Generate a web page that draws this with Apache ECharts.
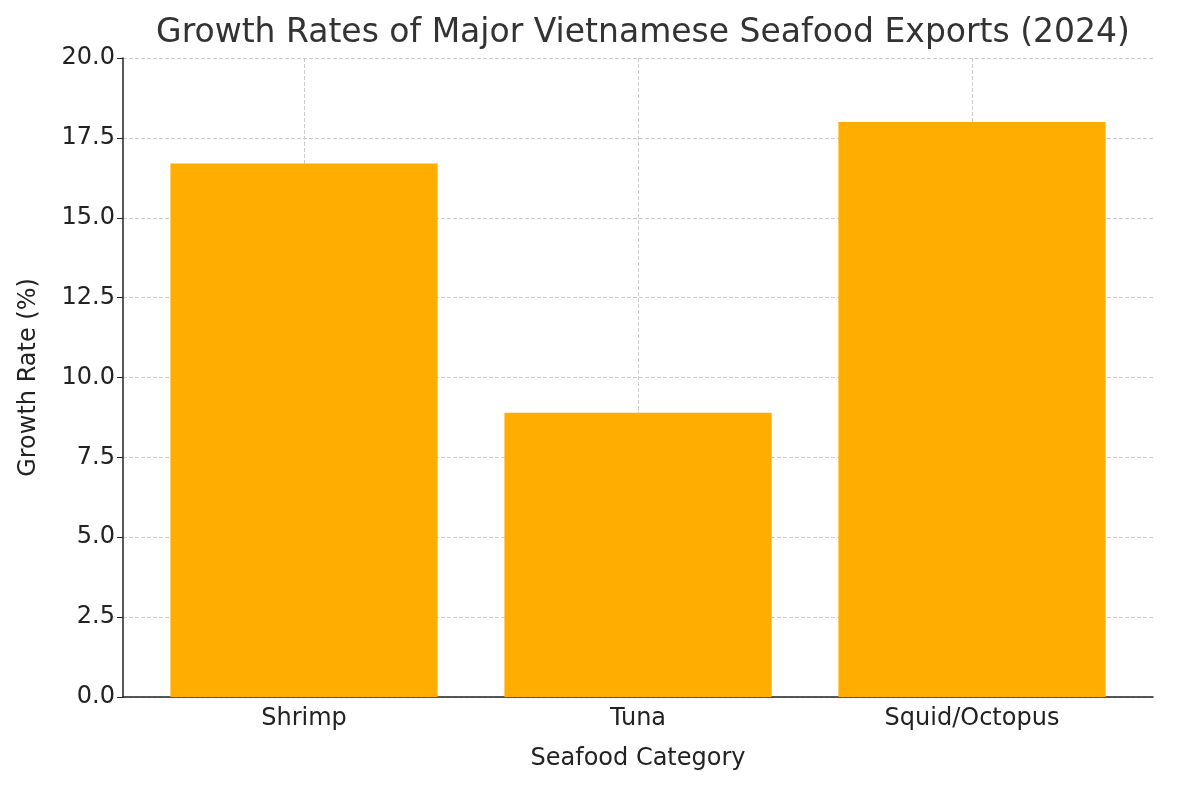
<!DOCTYPE html>
<html>
<head>
<meta charset="UTF-8">
<title>Seafood Exports</title>
<script src="https://cdn.jsdelivr.net/npm/echarts@6/dist/echarts.min.js"></script>
<style>
  html, body { margin: 0; padding: 0; background: #fff; }
  #chart { width: 1200px; height: 786px; }
</style>
</head>
<body>
<div id="chart"></div>
<script>
  var categories = ['Shrimp', 'Tuna', 'Squid/Octopus'];
  var growthRates = [16.7, 8.9, 18.0];

  var font = 'DejaVu Sans';
  var chart = echarts.init(document.getElementById('chart'), null, { renderer: 'canvas' });
  chart.setOption({
    animation: false,
    title: {
      text: 'Growth Rates of Major Vietnamese Seafood Exports (2024)',
      left: 638, top: 12, textAlign: 'center',
      textStyle: { fontFamily: font, fontSize: 33, fontWeight: 'normal', color: '#333' }
    },
    // outer grid carries the axis frame and y labels, inner grid holds the bars
    grid: [
      { left: 123, right: 47, top: 58, bottom: 89 },
      { left: 137, right: 61, top: 58, bottom: 89 }
    ],
    xAxis: [{
      gridIndex: 0, type: 'value', min: 0, max: 1,
      axisLine: { show: true, onZero: false, lineStyle: { color: '#222', width: 1.5 } },
      axisTick: { show: false }, axisLabel: { show: false }, splitLine: { show: false },
      name: 'Seafood Category',
      nameLocation: 'middle', nameGap: 50,
      nameTextStyle: { fontFamily: font, fontSize: 24, color: '#222' }
    }, {
      gridIndex: 1, type: 'category',
      data: categories,
      axisLine: { show: false },
      axisTick: { alignWithLabel: true, length: 6, lineStyle: { color: '#222' } },
      axisLabel: { fontFamily: font, fontSize: 24, color: '#222', margin: 10 },
      splitLine: { show: false }
    }, {
      gridIndex: 1, type: 'value', min: 0, max: 6, interval: 1, position: 'top',
      axisLine: { show: false }, axisTick: { show: false }, axisLabel: { show: false },
      splitLine: { show: true, lineStyle: { type: 'dashed', color: ['transparent', '#ccc'] } }
    }],
    yAxis: [{
      gridIndex: 0, type: 'value', min: 0, max: 20, interval: 2.5,
      axisLine: { show: true, lineStyle: { color: '#222', width: 1.5 } },
      axisTick: { show: true, length: 6, lineStyle: { color: '#222' } },
      axisLabel: { fontFamily: font, fontSize: 24, color: '#222', formatter: function (v) { return v.toFixed(1); } },
      splitLine: { lineStyle: { type: 'dashed', color: '#ccc' } },
      name: 'Growth Rate (%)',
      nameLocation: 'middle', nameGap: 82,
      nameTextStyle: { fontFamily: font, fontSize: 24, color: '#222' }
    }, {
      gridIndex: 1, type: 'value', min: 0, max: 20, show: false,
      splitLine: { show: false }
    }],
    series: [{
      type: 'bar', xAxisIndex: 1, yAxisIndex: 1,
      data: growthRates,
      barWidth: '80%',
      itemStyle: { color: '#FFAD00' }
    }]
  });
</script>
</body>
</html>
